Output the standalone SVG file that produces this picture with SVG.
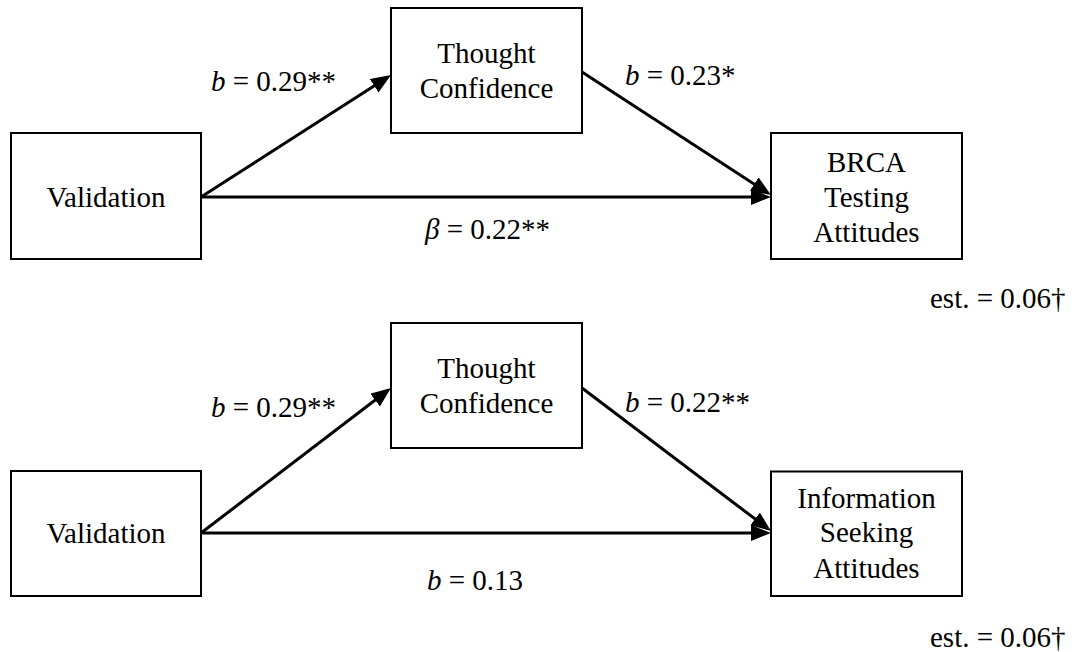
<svg xmlns="http://www.w3.org/2000/svg" width="1076" height="652" viewBox="0 0 1076 652">
<style>
  .box { fill: #ffffff; stroke: #000000; stroke-width: 2; }
  .t { font-family: "Liberation Serif", "Times New Roman", serif; font-size: 29px; fill: #000000; }
  .c { text-anchor: middle; }
  .i { font-style: italic; }
  .edge { stroke: #000000; stroke-width: 3; fill: none; marker-end: url(#arrow); }
</style>
<defs>
  <marker id="arrow" markerUnits="userSpaceOnUse" markerWidth="22" markerHeight="18" refX="15" refY="8" orient="auto">
    <path d="M0,0 L20,8 L0,16 Z" fill="#000000"/>
  </marker>
</defs>
<rect width="1076" height="652" fill="#ffffff"/>

<g id="connectors">
  <line class="edge" x1="201" y1="197" x2="386.8" y2="77.7"/>
  <line class="edge" x1="201" y1="197" x2="766" y2="197"/>
  <line class="edge" x1="582" y1="72" x2="766.8" y2="192.3"/>
  <line class="edge" x1="201" y1="533" x2="387" y2="391"/>
  <line class="edge" x1="201" y1="533" x2="766" y2="533"/>
  <line class="edge" x1="582" y1="388" x2="767" y2="528"/>
</g>

<g id="validation-1">
  <rect class="box" x="11" y="133" width="190" height="126"/>
  <text class="t c" x="106" y="207">Validation</text>
</g>
<g id="thought-1">
  <rect class="box" x="391" y="8" width="191" height="125"/>
  <text class="t c" x="486.5" y="63">Thought</text>
  <text class="t c" x="486.5" y="98">Confidence</text>
</g>
<g id="brca">
  <rect class="box" x="771" y="133" width="191" height="126"/>
  <text class="t c" x="866.5" y="172">BRCA</text>
  <text class="t c" x="866.5" y="207">Testing</text>
  <text class="t c" x="866.5" y="242">Attitudes</text>
</g>

<g id="validation-2">
  <rect class="box" x="11" y="471" width="190" height="125"/>
  <text class="t c" x="106" y="543">Validation</text>
</g>
<g id="thought-2">
  <rect class="box" x="391" y="323" width="191" height="125"/>
  <text class="t c" x="486.5" y="378">Thought</text>
  <text class="t c" x="486.5" y="413">Confidence</text>
</g>
<g id="info">
  <rect class="box" x="771" y="471.5" width="191" height="124.5"/>
  <text class="t c" x="866.5" y="508">Information</text>
  <text class="t c" x="866.5" y="542">Seeking</text>
  <text class="t c" x="866.5" y="578">Attitudes</text>
</g>

<g id="labels">
  <text class="t" x="211" y="91"><tspan class="i">b</tspan> = 0.29**</text>
  <text class="t" x="625" y="85"><tspan class="i">b</tspan> = 0.23*</text>
  <text class="t" x="425" y="239"><tspan class="i">β</tspan> = 0.22**</text>
  <text class="t" x="930" y="308">est. = 0.06†</text>
  <text class="t" x="211" y="417"><tspan class="i">b</tspan> = 0.29**</text>
  <text class="t" x="625" y="412"><tspan class="i">b</tspan> = 0.22**</text>
  <text class="t" x="427" y="590"><tspan class="i">b</tspan> = 0.13</text>
  <text class="t" x="930" y="647">est. = 0.06†</text>
</g>
</svg>
